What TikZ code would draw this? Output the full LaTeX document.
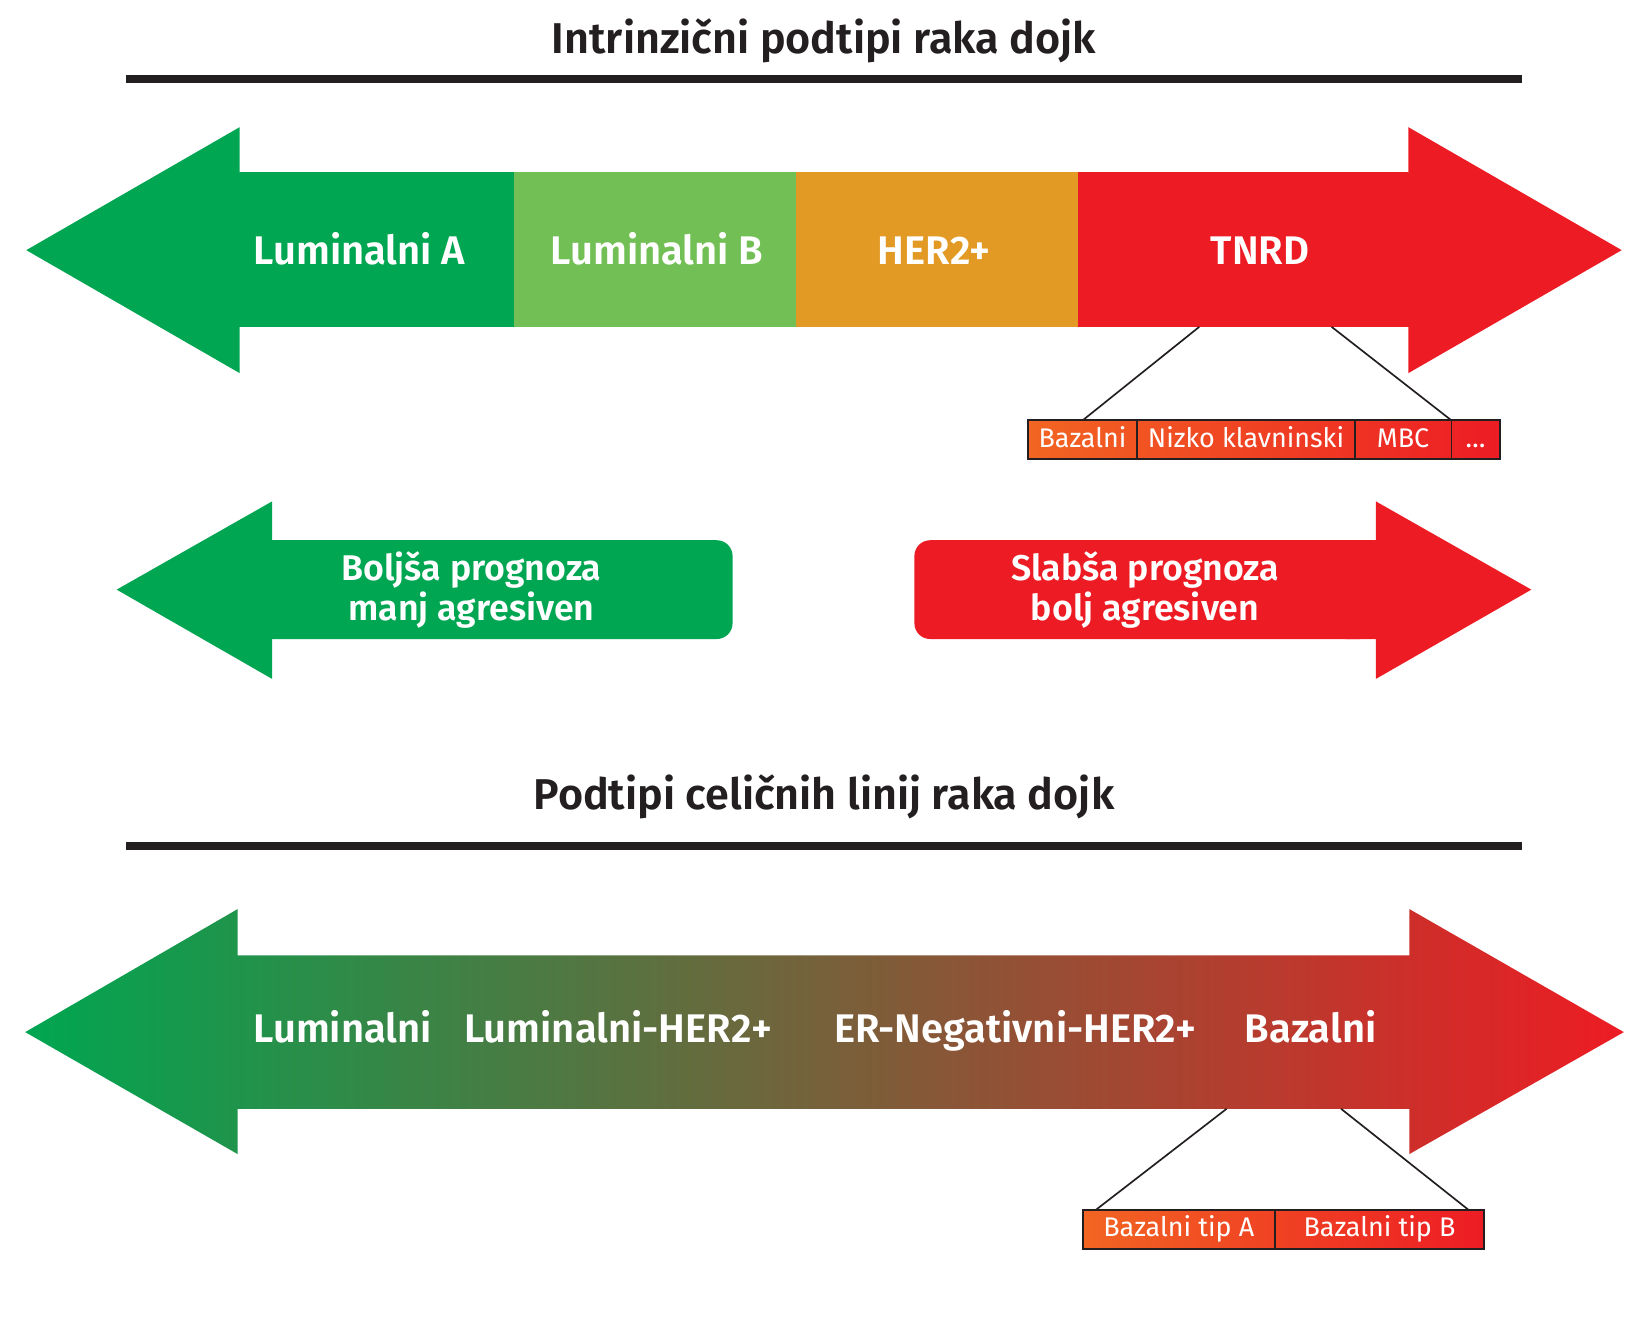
\documentclass[tikz,border=0pt]{standalone}
\usepackage{fontspec}
\setmainfont{Fira Sans}[BoldFont={Fira Sans SemiBold}]
\usetikzlibrary{calc,backgrounds}
\definecolor{dgreen}{HTML}{00A651}
\definecolor{lgreen}{HTML}{72BF55}
\definecolor{herorange}{HTML}{E39A24}
\definecolor{tnred}{HTML}{ED1C24}
\definecolor{suborange}{HTML}{F26522}
\definecolor{ink}{HTML}{231F20}
\begin{document}
\begin{tikzpicture}[x=0.5pt,y=-0.5pt,
  seg/.style={inner sep=0, minimum height=73.5pt},
  lbl/.style={text=white, font=\bfseries\fontsize{19}{19}\selectfont, text height=0.69em, text depth=0pt, inner sep=0},
  heading/.style={text=ink, font=\bfseries\fontsize{20.5}{20.5}\selectfont, text height=0.69em, text depth=0pt, inner sep=0},
  cell/.style={draw=ink, line width=0.9pt, outer sep=0, text=white, inner sep=0, minimum height=18.5pt, text height=0.69em, text depth=0pt, font=\fontsize{12.8}{12.8}\selectfont},
  prog/.style={text=white, inner sep=0, align=center, minimum height=47pt, rounded corners=7.5pt, font=\bfseries\fontsize{17}{19}\selectfont},
  link/.style={draw=ink, line width=0.8pt}]
\useasboundingbox (0,0) rectangle (1568,1274);

% top
\node[heading] (title1) at (784,44) {Intrinzični podtipi raka dojk};
\draw[ink, line width=3.5pt] (120,75) -- (1448,75);

\node[seg, fill=dgreen, minimum width=130.5pt] (lumA) at (358.5,237.5) {};
\node[seg, fill=lgreen, minimum width=134pt] (lumB) at (623,237.5) {};
\node[seg, fill=herorange, minimum width=134.5pt] (her2) at (891.5,237.5) {};
\node[seg, fill=tnred, minimum width=157pt] (tnrd) at (1183,237.5) {};
\fill[dgreen] (229,164) -- (228,164) -- (228,121) -- (25,238) -- (228,355) -- (228,311) -- (229,311) -- cycle;
\fill[tnred] (1339,164) -- (1340,164) -- (1340,121) -- (1543,238) -- (1340,355) -- (1340,311) -- (1339,311) -- cycle;
\node[lbl] (labA) at (342,245) {Luminalni A};
\node[lbl] (labB) at (625,245) {Luminalni B};
\node[lbl] (labH) at (889,245) {HER2+};
\node[lbl] (labT) at (1199,245) {TNRD};

\node[cell, minimum width=52pt] (baz) at (1030,418.5) {Bazalni};
\node[cell, minimum width=103.5pt, anchor=west] (nizko) at (baz.east) {Nizko klavninski};
\node[cell, minimum width=46pt, anchor=west] (mbc) at (nizko.east) {MBC};
\node[cell, minimum width=23pt, anchor=west] (dots) at (mbc.east) {…};
\begin{pgfonlayer}{background}
\shade[left color=suborange, right color=tnred] (baz.north west) rectangle (dots.south east);
\end{pgfonlayer}
\coordinate (t1) at (1141,311);
\coordinate (t2) at (1267,311);
\draw[link] (t1) -- (baz.north);
\draw[link] (t2) -- (mbc.north east);

% middle
\node[prog, fill=dgreen, minimum width=248.5pt] (better) at (448.5,561) {Boljša prognoza\\manj agresiven};
\fill[dgreen] (259,477) -- (111,561) -- (259,646) -- cycle;
\node[prog, fill=tnred, minimum width=219.5pt] (worse) at (1089.5,561) {Slabša prognoza\\bolj agresiven};
\fill[tnred] (1280,514) -- (1309,514) -- (1309,477) -- (1457,561) -- (1309,646) -- (1309,608) -- (1280,608) -- cycle;

% bottom
\node[heading] (title2) at (784,763) {Podtipi celičnih linij raka dojk};
\draw[ink, line width=3.5pt] (120,805) -- (1448,805);

\shade[left color=dgreen, right color=tnred] (24,982) -- (226,865) -- (226,909) -- (1341,909) -- (1341,865) -- (1545,982) -- (1341,1098) -- (1341,1055) -- (226,1055) -- (226,1098) -- cycle;
\node[lbl] (lum) at (326,985) {Luminalni};
\node[lbl] (lumher) at (588,985) {Luminalni-HER2+};
\node[lbl] (erneg) at (966,985) {ER-Negativni-HER2+};
\node[lbl] (bas) at (1247,985) {Bazalni};

\node[cell, minimum width=91.5pt] (tipA) at (1121.5,1169.5) {Bazalni tip A};
\node[cell, minimum width=99.5pt, anchor=west] (tipB) at (tipA.east) {Bazalni tip B};
\begin{pgfonlayer}{background}
\shade[left color=suborange, right color=tnred] (tipA.north west) rectangle (tipB.south east);
\end{pgfonlayer}
\coordinate (b1) at (1167,1055);
\coordinate (b2) at (1276,1055);
\draw[link] (b1) -- ($(tipA.north west)!0.07!(tipA.north east)$);
\draw[link] (b2) -- ($(tipB.north east)!0.075!(tipB.north west)$);
\end{tikzpicture}
\end{document}
